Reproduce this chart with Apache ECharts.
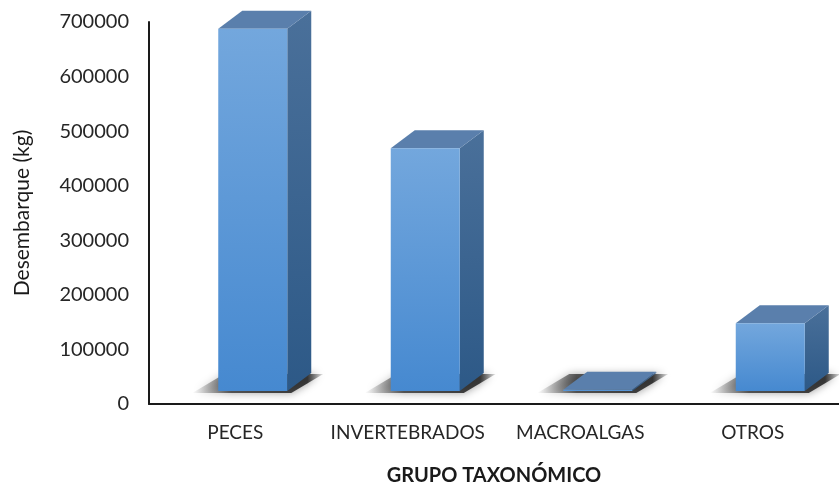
<!DOCTYPE html>
<html>
<head>
<meta charset="utf-8">
<script src="https://cdn.jsdelivr.net/npm/echarts@6/dist/echarts.min.js"></script>
<style>
  html, body { margin: 0; padding: 0; background: #ffffff; }
  #chart { width: 839px; height: 488px; }
</style>
</head>
<body>
<div id="chart"></div>
<script>
// Landings by taxonomic group
const categories = ['PECES', 'INVERTEBRADOS', 'MACROALGAS', 'OTROS'];
const landings = [664000, 445000, 2500, 124000];
const yTicks = [0, 100000, 200000, 300000, 400000, 500000, 600000, 700000];

const FONT = 'Lato, "Open Sans", sans-serif';

// Oblique projection used for the column solids
const DEPTH = [24, -18];        // full column depth (screen px)
const FRONT = [17.5, -13];      // front face sits this far back from the axis plane
const BAR_RATIO = 0.4;          // front face width as a share of the category band

const frontFill = new echarts.graphic.LinearGradient(0, 0, 0, 1, [
  { offset: 0, color: '#73a7dd' },
  { offset: 1, color: '#4689d0' }
]);
const sideFill = new echarts.graphic.LinearGradient(0, 0, 0, 1, [
  { offset: 0, color: '#4a709a' },
  { offset: 1, color: '#2d5987' }
]);
const topFill = '#5a7fac';

function renderColumn(params, api) {
  const idx = api.value(0);
  const val = api.value(1);
  const base = api.coord([idx, 0]);
  const top = api.coord([idx, val]);
  const bw = api.size([1, 0])[0] * BAR_RATIO;

  const x0 = base[0] - bw / 2 + FRONT[0];
  const x1 = x0 + bw;
  const yb = base[1] + FRONT[1];
  const yt = top[1] + FRONT[1];
  const dx = DEPTH[0], dy = DEPTH[1];

  // soft floor shadow, darkest right under the column
  const shadowFill = new echarts.graphic.LinearGradient(0, 0, 1, 0, [
    { offset: 0, color: 'rgba(30,30,30,0)' },
    { offset: 0.3, color: 'rgba(30,30,30,0.7)' },
    { offset: 0.88, color: 'rgba(30,30,30,0.85)' },
    { offset: 1, color: 'rgba(30,30,30,0.1)' }
  ]);

  return {
    type: 'group',
    children: [
      {
        type: 'polygon',
        shape: { points: [
          [x0 - 26, yb + 2], [x1 + 4, yb + 2],
          [x1 + dx + 12, yb + dy + 1], [x0 + dx - 18, yb + dy + 1]
        ] },
        style: { fill: shadowFill, shadowBlur: 9, shadowColor: 'rgba(30,30,30,0.55)' },
        silent: true
      },
      {
        type: 'polygon',
        shape: { points: [[x1, yt], [x1 + dx, yt + dy], [x1 + dx, yb + dy], [x1, yb]] },
        style: { fill: sideFill }
      },
      {
        type: 'polygon',
        shape: { points: [[x0, yt], [x1, yt], [x1 + dx, yt + dy], [x0 + dx, yt + dy]] },
        style: { fill: topFill }
      },
      {
        type: 'rect',
        shape: { x: x0, y: yt, width: bw, height: Math.max(yb - yt, 0) },
        style: { fill: frontFill }
      }
    ]
  };
}

const chart = echarts.init(document.getElementById('chart'), null, { renderer: 'canvas' });

chart.setOption({
  animation: false,
  backgroundColor: '#ffffff',
  grid: { left: 149, right: 0, top: 22, bottom: 84, containLabel: false, outerBoundsMode: 'none' },
  xAxis: {
    type: 'category',
    data: categories,
    axisLine: { show: true, lineStyle: { color: '#1a1a1a', width: 2 } },
    axisTick: { show: false },
    axisLabel: { interval: 0, fontFamily: FONT, fontSize: 19, color: '#262626', margin: 19 },
    name: 'GRUPO TAXONÓMICO',
    nameLocation: 'middle',
    nameGap: 62,
    nameTextStyle: { fontFamily: FONT, fontSize: 20, fontWeight: 'bold', color: '#1a1a1a' }
  },
  yAxis: {
    type: 'value',
    min: yTicks[0],
    max: yTicks[yTicks.length - 1],
    interval: yTicks[1] - yTicks[0],
    axisLine: { show: true, lineStyle: { color: '#1a1a1a', width: 2 } },
    axisTick: { show: false },
    splitLine: { show: false },
    axisLabel: { fontFamily: FONT, fontSize: 20, color: '#262626', margin: 20, formatter: v => String(v) },
    name: 'Desembarque (kg)',
    nameLocation: 'middle',
    nameRotate: 90,
    nameGap: 116,
    nameTextStyle: { fontFamily: FONT, fontSize: 21, color: '#1a1a1a' }
  },
  series: [{
    type: 'custom',
    renderItem: renderColumn,
    data: landings.map((v, i) => [i, v]),
    clip: false
  }]
});
</script>
</body>
</html>
